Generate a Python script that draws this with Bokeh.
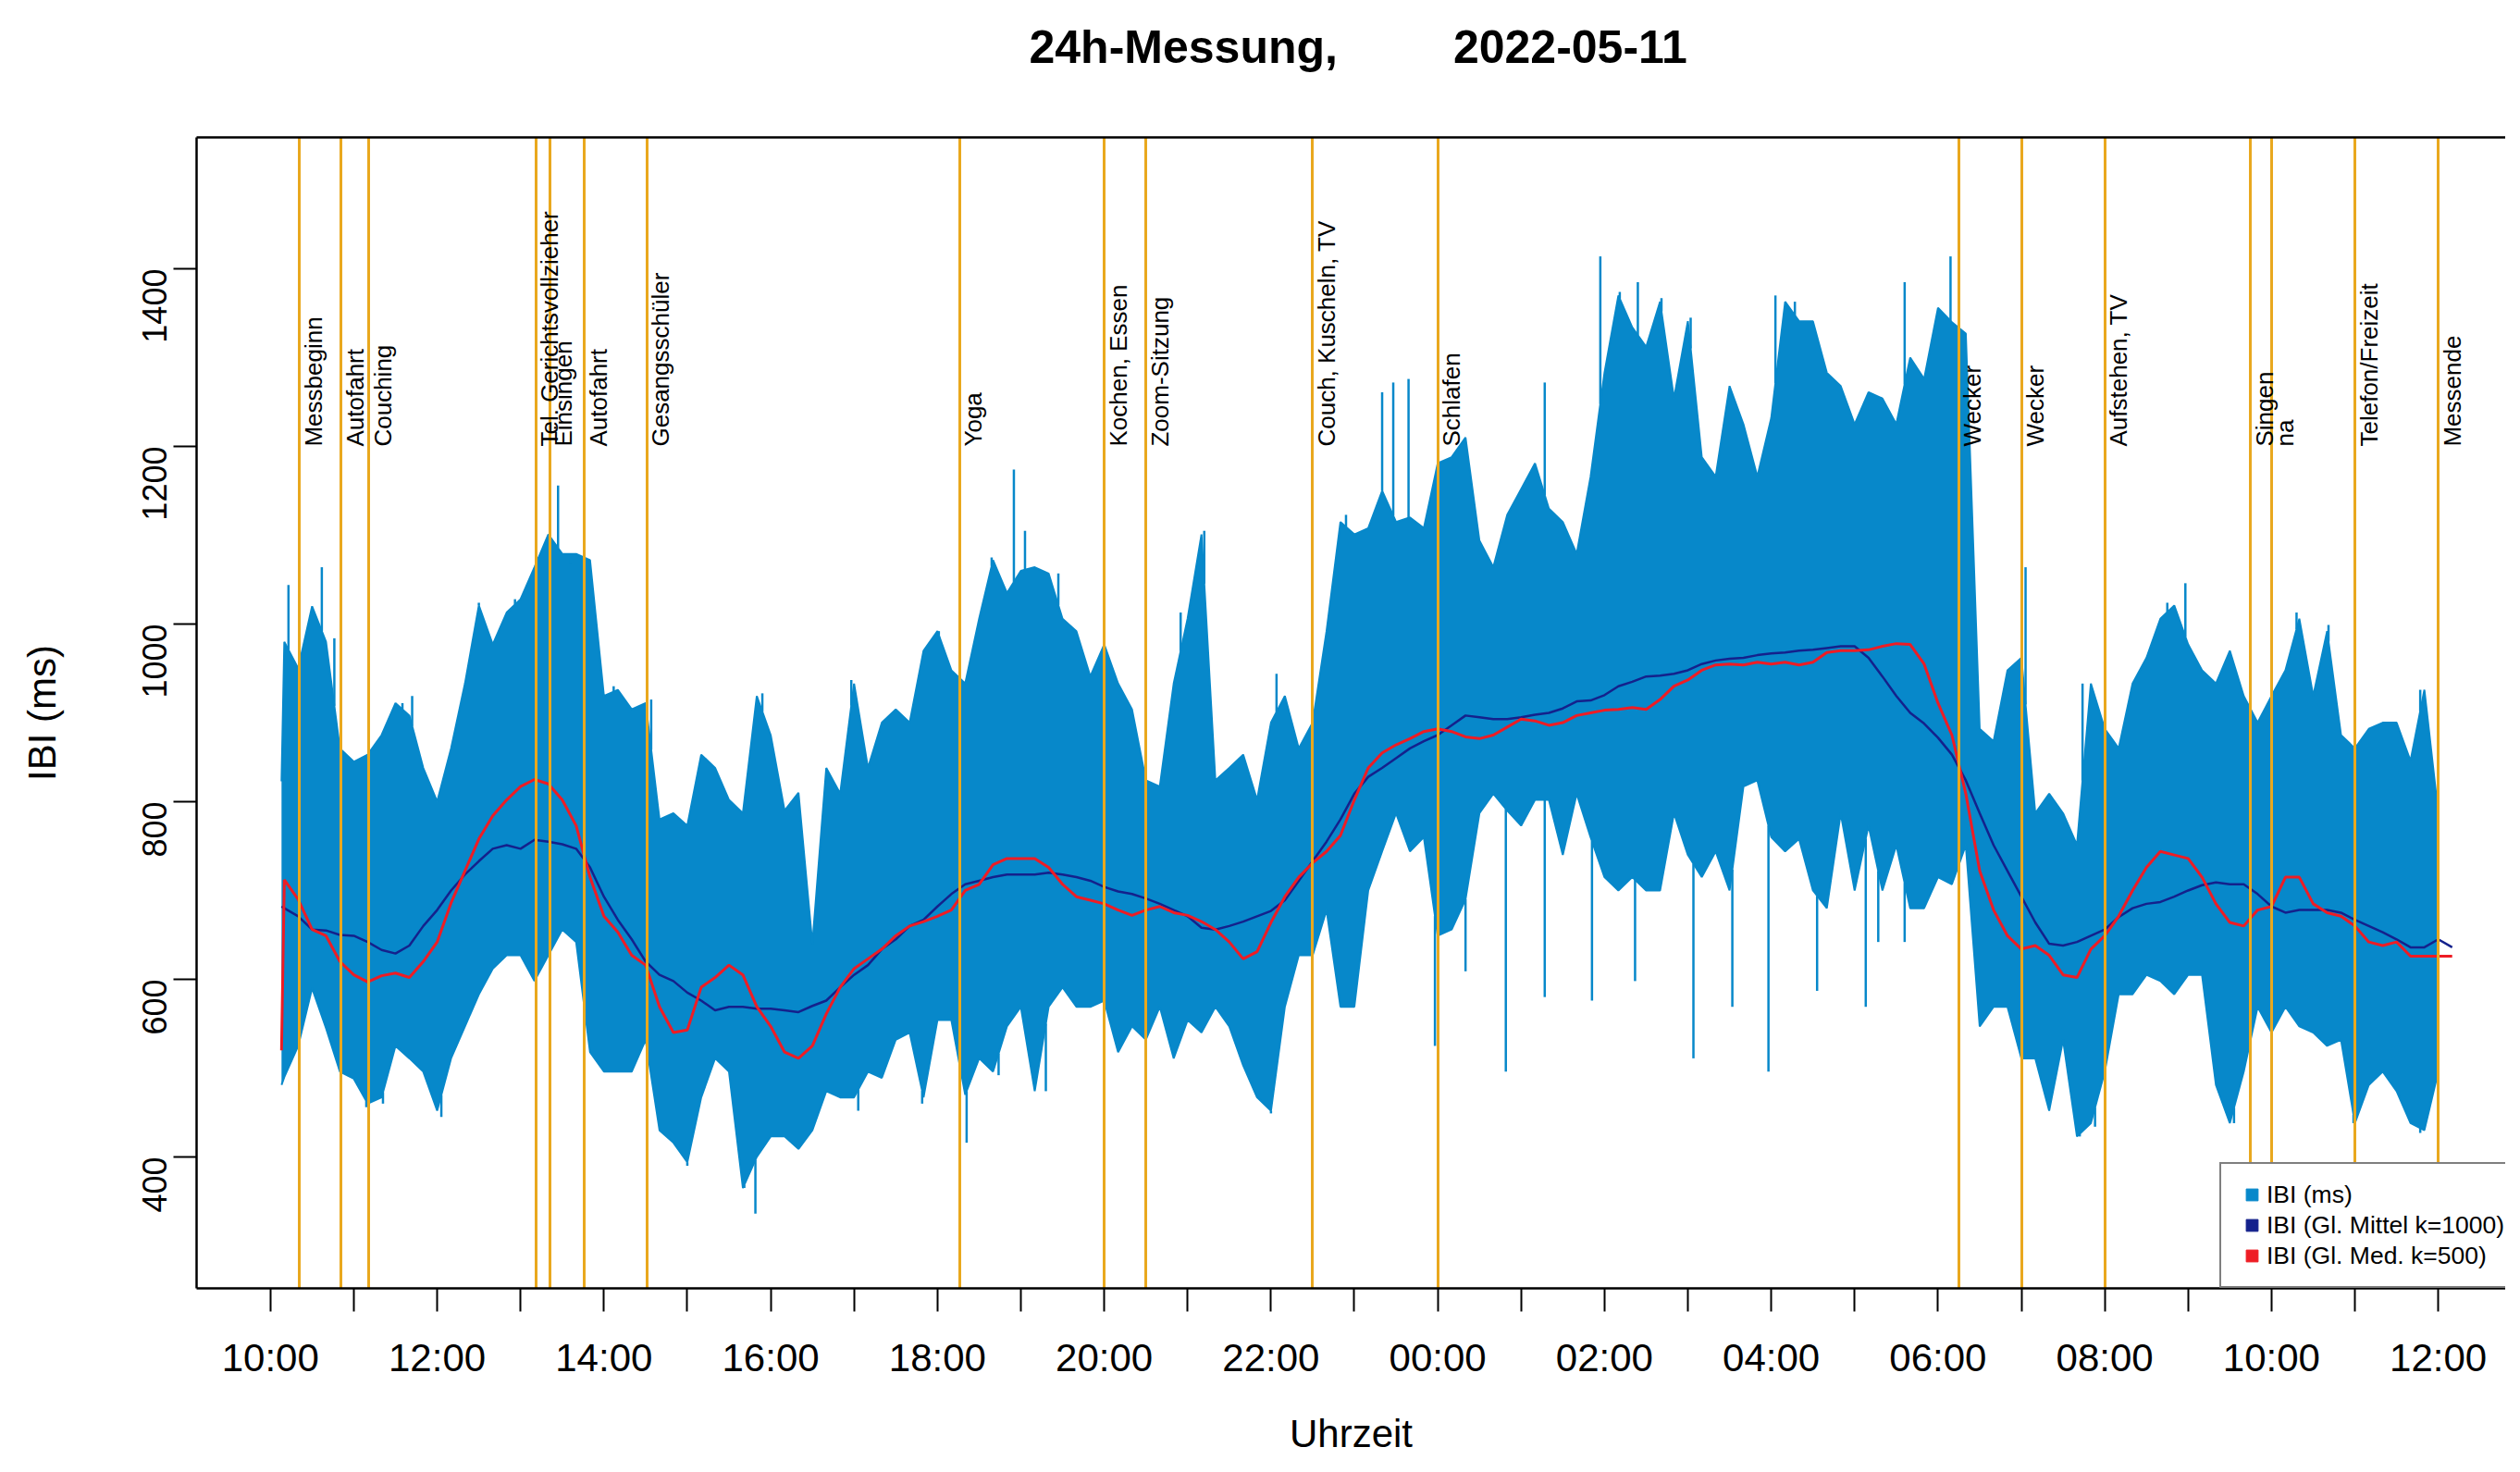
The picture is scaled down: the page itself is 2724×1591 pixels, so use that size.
import math
import numpy as np
import pandas as pd
from bokeh.plotting import figure
from bokeh.models import FixedTicker, LinearAxis, Legend, LegendItem, Title
from bokeh.core.properties import value
from bokeh.embed import file_html
from bokeh.resources import INLINE

# ---------------- data ----------------
DAY0 = "2022-05-11"
title_left = "24h-Messung,"
title_right = "2022-05-11"

event_time = ["2022-05-11 10:21", "2022-05-11 10:51", "2022-05-11 11:11", "2022-05-11 13:11",
              "2022-05-11 13:21", "2022-05-11 13:46", "2022-05-11 14:31", "2022-05-11 18:16",
              "2022-05-11 20:00", "2022-05-11 20:30", "2022-05-11 22:30", "2022-05-12 00:00",
              "2022-05-12 06:15", "2022-05-12 07:00", "2022-05-12 08:00", "2022-05-12 09:45",
              "2022-05-12 10:00", "2022-05-12 11:00", "2022-05-12 12:00"]
event_label = ["Messbeginn", "Autofahrt", "Couching", "Tel. Gerichtsvollzieher", "Einsingen",
               "Autofahrt", "Gesangsschüler", "Yoga", "Kochen, Essen", "Zoom-Sitzung",
               "Couch, Kuscheln, TV", "Schlafen", "Wecker", "Wecker", "Aufstehen, TV",
               "Singen", "na", "Telefon/Freizeit", "Messende"]

# sample times: first sample, then a 10-minute grid
first_time = "2022-05-11 10:08"
env_grid_end = "2022-05-12 12:00"
smooth_grid_end = "2022-05-12 12:10"

# upper / lower envelope of the raw IBI series (ms), per 10 minutes
ibi_hi = [823,
    980, 950, 1020, 980, 860, 845,
    853, 875, 911, 897, 838, 800,
    860, 933, 1021, 977, 1013, 1028,
    1064, 1101, 1079, 1079, 1072, 919,
    926, 904, 911, 780, 787, 773,
    853, 838, 802, 787, 919, 875,
    790, 810, 640, 838, 809, 933,
    838, 889, 904, 889, 970, 992,
    948, 933, 1006, 1072, 1035, 1060,
    1064, 1057, 1006, 992, 941, 977,
    933, 904, 824, 817, 933, 1006,
    1101, 824, 838, 853, 802, 889,
    919, 860, 889, 992, 1115, 1101,
    1108, 1150, 1115, 1120, 1108, 1181,
    1188, 1210, 1094, 1064, 1123, 1152,
    1181, 1130, 1115, 1079, 1166, 1283,
    1370, 1334, 1312, 1363, 1254, 1341,
    1188, 1166, 1268, 1225, 1166, 1232,
    1363, 1341, 1341, 1283, 1268, 1225,
    1261, 1254, 1225, 1300, 1276, 1356,
    1340, 1327, 882, 868, 948, 962,
    787, 809, 787, 751, 933, 882,
    860, 933, 962, 1006, 1021, 977,
    948, 933, 970, 919, 889, 919,
    948, 1006, 919, 992, 875, 860,
    882, 889, 889, 846, 926, 787]
ibi_lo = [481,
    490, 525, 590, 545, 496, 488,
    460, 467, 525, 511, 496, 452,
    511, 547, 583, 612, 627, 627,
    598, 627, 656, 642, 518, 496,
    496, 496, 532, 430, 416, 394,
    467, 511, 496, 365, 400, 423,
    423, 409, 430, 474, 467, 467,
    496, 489, 532, 540, 467, 554,
    554, 470, 511, 496, 547, 569,
    474, 569, 591, 569, 569, 576,
    518, 547, 532, 569, 511, 554,
    540, 569, 547, 503, 467, 452,
    569, 627, 627, 678, 569, 569,
    700, 744, 787, 744, 760, 649,
    656, 690, 787, 809, 790, 773,
    802, 802, 740, 809, 760, 715,
    700, 715, 700, 700, 787, 740,
    715, 744, 700, 817, 824, 760,
    744, 758, 700, 680, 787, 700,
    773, 700, 751, 680, 680, 715,
    707, 751, 547, 569, 569, 511,
    511, 452, 532, 423, 438, 496,
    583, 583, 605, 598, 583, 605,
    605, 481, 438, 496, 569, 540,
    569, 547, 540, 525, 532, 438,
    481, 496, 474, 438, 430, 496]

# isolated single-beat spikes of the raw series
spike_up_time = [
    "2022-05-11 10:13", "2022-05-11 10:37", "2022-05-11 10:46", "2022-05-11 11:35",
    "2022-05-11 11:42", "2022-05-11 12:30", "2022-05-11 12:56", "2022-05-11 13:13",
    "2022-05-11 13:27", "2022-05-11 13:36", "2022-05-11 13:49", "2022-05-11 14:07",
    "2022-05-11 14:34", "2022-05-11 15:54", "2022-05-11 16:58", "2022-05-11 18:01",
    "2022-05-11 18:39", "2022-05-11 18:55", "2022-05-11 19:03", "2022-05-11 19:27",
    "2022-05-11 20:55", "2022-05-11 21:12", "2022-05-11 22:04", "2022-05-11 22:54",
    "2022-05-11 23:20", "2022-05-11 23:28", "2022-05-11 23:39", "2022-05-12 01:17",
    "2022-05-12 01:57", "2022-05-12 02:11", "2022-05-12 02:24", "2022-05-12 02:41",
    "2022-05-12 03:02", "2022-05-12 04:03", "2022-05-12 04:17", "2022-05-12 05:36",
    "2022-05-12 06:09", "2022-05-12 07:03", "2022-05-12 07:44", "2022-05-12 08:45",
    "2022-05-12 08:58", "2022-05-12 10:18", "2022-05-12 10:41", "2022-05-12 11:47"]
spike_up_value = [
    1044, 1064, 984, 911,
    919, 1024, 1028, 1064,
    1156, 1068, 1072, 930,
    915, 922, 937, 992,
    1075, 1174, 1105, 1057,
    1013, 1105, 944, 1123,
    1261, 1272, 1276, 1272,
    1414, 1374, 1385, 1367,
    1345, 1370, 1363, 1385,
    1414, 1064, 933, 1024,
    1046, 1013, 999, 926]
spike_down_time = [
    "2022-05-11 11:09", "2022-05-11 11:21", "2022-05-11 12:03", "2022-05-11 15:00",
    "2022-05-11 15:41", "2022-05-11 15:49", "2022-05-11 17:03", "2022-05-11 17:49",
    "2022-05-11 18:21", "2022-05-11 18:44", "2022-05-11 19:18", "2022-05-11 22:00",
    "2022-05-11 23:58", "2022-05-12 00:20", "2022-05-12 00:49", "2022-05-12 01:17",
    "2022-05-12 01:51", "2022-05-12 02:22", "2022-05-12 03:04", "2022-05-12 03:32",
    "2022-05-12 03:58", "2022-05-12 04:33", "2022-05-12 05:08", "2022-05-12 05:17",
    "2022-05-12 05:36", "2022-05-12 07:42", "2022-05-12 07:53", "2022-05-12 09:33",
    "2022-05-12 10:59", "2022-05-12 11:47"]
spike_down_value = [
    456, 460, 445, 390,
    365, 336, 452, 460,
    416, 492, 474, 449,
    525, 609, 496, 580,
    576, 598, 511, 569,
    496, 587, 569, 642,
    642, 423, 434, 438,
    438, 427]

# gleitendes Mittel k=1000
ibi_mean = [682,
    680, 671, 656, 655, 650, 649,
    642, 633, 629, 638, 660, 678,
    700, 718, 733, 747, 751, 747,
    757, 755, 752, 747, 726, 693,
    667, 645, 620, 605, 598, 585,
    576, 565, 569, 569, 567, 567,
    565, 563, 570, 576, 591, 605,
    616, 634, 645, 660, 667, 682,
    696, 707, 711, 715, 718, 718,
    718, 720, 718, 715, 711, 704,
    699, 696, 691, 685, 678, 671,
    658, 656, 660, 665, 671, 677,
    689, 711, 733, 755, 780, 809,
    828, 838, 849, 860, 868, 875,
    886, 897, 895, 893, 893, 895,
    898, 900, 905, 913, 914, 920,
    930, 935, 941, 942, 944, 948,
    955, 959, 961, 962, 965, 967,
    968, 970, 971, 973, 975, 975,
    962, 941, 919, 900, 888, 872,
    853, 824, 787, 751, 722, 693,
    664, 640, 638, 642, 649, 656,
    670, 680, 685, 687, 693, 700,
    706, 709, 707, 707, 696, 682,
    675, 678, 678, 678, 675, 667,
    660, 653, 645, 636, 636, 645,
    636]
# gleitender Median k=500
ibi_median = [520,
    712, 690, 656, 649, 620, 605,
    597, 604, 607, 602, 620, 642,
    686, 722, 758, 784, 802, 817,
    825, 820, 802, 773, 715, 671,
    653, 627, 616, 569, 540, 543,
    591, 602, 616, 605, 569, 547,
    518, 511, 525, 561, 591, 612,
    623, 634, 649, 660, 665, 671,
    678, 700, 707, 729, 736, 736,
    736, 726, 707, 693, 689, 685,
    678, 672, 678, 682, 675, 672,
    665, 656, 642, 623, 631, 664,
    693, 715, 731, 744, 762, 802,
    838, 855, 864, 871, 879, 882,
    879, 873, 871, 875, 884, 893,
    891, 886, 889, 897, 900, 903,
    904, 906, 904, 915, 930, 937,
    948, 954, 955, 954, 957, 955,
    957, 954, 957, 968, 970, 970,
    971, 975, 978, 977, 955, 911,
    875, 809, 722, 678, 649, 634,
    638, 627, 605, 602, 634, 649,
    671, 700, 726, 744, 740, 736,
    715, 685, 664, 660, 678, 682,
    715, 715, 685, 675, 671, 660,
    642, 638, 642, 626, 626, 626,
    626]

x_tick_hours = [10, 11, 12, 13, 14, 15, 16, 17, 18, 19, 20, 21, 22, 23, 24,
                25, 26, 27, 28, 29, 30, 31, 32, 33, 34, 35, 36]
x_tick_labels = ["10:00", "", "12:00", "", "14:00", "", "16:00", "", "18:00", "", "20:00", "",
                 "22:00", "", "00:00", "", "02:00", "", "04:00", "", "06:00", "", "08:00", "",
                 "10:00", "", "12:00"]
y_ticks = [400, 600, 800, 1000, 1200, 1400]

legend_labels = ["IBI (ms)", "IBI (Gl. Mittel k=1000)", "IBI (Gl. Med. k=500)"]

# ---------------- helpers ----------------
base = pd.Timestamp(DAY0)


def hours(ts):
    return (pd.Timestamp(ts) - base).total_seconds() / 3600.0


env_t = [hours(first_time)] + [hours(t) for t in pd.date_range("2022-05-11 10:10", env_grid_end, freq="10min")]
sm_t = [hours(first_time)] + [hours(t) for t in pd.date_range("2022-05-11 10:10", smooth_grid_end, freq="10min")]
n_env = min(len(env_t), len(ibi_hi), len(ibi_lo))
n_sm = min(len(sm_t), len(ibi_mean), len(ibi_median))
env_t = np.array(env_t[:n_env])
hi = np.array(ibi_hi[:n_env], dtype=float)
lo = np.array(ibi_lo[:n_env], dtype=float)

n_su = min(len(spike_up_time), len(spike_up_value))
n_sd = min(len(spike_down_time), len(spike_down_value))
su_t = np.array([hours(t) for t in spike_up_time[:n_su]])
sd_t = np.array([hours(t) for t in spike_down_time[:n_sd]])
ev_t = [hours(t) for t in event_time]

# ---------------- style ----------------
FONT = "Liberation Sans"
C_IBI = "#0788CA"
C_MEAN = "#14218C"
C_MED = "#EE1C24"
C_EVENT = "#E9A81E"

p = figure(width=2708, height=1575, output_backend="svg", toolbar_location=None,
           x_range=(9.1146, 36.808), y_range=(252, 1548),
           min_border_left=212, min_border_right=0, min_border_top=148, min_border_bottom=178)
p.background_fill_color = "white"
p.border_fill_color = "white"
p.outline_line_color = None
p.xgrid.visible = False
p.ygrid.visible = False

# raw IBI band
p.varea(x=env_t, y1=lo, y2=hi, fill_color=C_IBI, fill_alpha=1.0)
p.line(x=env_t, y=hi, line_color=C_IBI, line_width=2)
p.line(x=env_t, y=lo, line_color=C_IBI, line_width=2)
p.segment(x0=su_t, y0=np.interp(su_t, env_t, hi), x1=su_t, y1=spike_up_value[:n_su],
          line_color=C_IBI, line_width=2.5)
p.segment(x0=sd_t, y0=np.interp(sd_t, env_t, lo), x1=sd_t, y1=spike_down_value[:n_sd],
          line_color=C_IBI, line_width=2.5)

# smoothers
p.line(x=sm_t[:n_sm], y=ibi_mean[:n_sm], line_color=C_MEAN, line_width=2.5)
p.line(x=sm_t[:n_sm], y=ibi_median[:n_sm], line_color=C_MED, line_width=3)

# events
p.vspan(x=ev_t, line_color=C_EVENT, line_width=3)
LABEL_Y = 1200
p.text(x=ev_t, y=[LABEL_Y] * len(ev_t), text=event_label, angle=math.pi / 2,
       text_align="left", text_baseline="top", text_font=value(FONT),
       text_font_size="26px", text_color="black")

# axes
for ax in (p.xaxis[0], p.yaxis[0]):
    ax.axis_line_width = 2.5
    ax.axis_line_color = "black"
    ax.major_tick_line_width = 2
    ax.major_tick_line_color = "black"
    ax.major_tick_out = 25
    ax.major_tick_in = 0
    ax.minor_tick_line_color = None
    ax.major_label_text_font = FONT
    ax.axis_label_text_font = FONT
    ax.axis_label_text_font_style = "normal"
    ax.axis_label_text_color = "black"
    ax.major_label_text_color = "black"

p.xaxis.ticker = FixedTicker(ticks=x_tick_hours)
p.xaxis.major_label_overrides = {h: lab for h, lab in zip(x_tick_hours, x_tick_labels)}
p.xaxis.major_label_text_font_size = "42px"
p.xaxis.major_label_standoff = 26
p.xaxis.axis_label = "Uhrzeit"
p.xaxis.axis_label_text_font_size = "42px"
p.xaxis.axis_label_standoff = 32

p.yaxis.ticker = FixedTicker(ticks=y_ticks)
p.yaxis.major_label_orientation = math.pi / 2
p.yaxis.major_label_text_font_size = "36px"
p.yaxis.major_label_standoff = 20
p.yaxis.axis_label = "IBI (ms)"
p.yaxis.axis_label_text_font_size = "42px"
p.yaxis.axis_label_standoff = 70

top_axis = LinearAxis(ticker=FixedTicker(ticks=[]), axis_line_width=2.5, axis_line_color="black",
                      major_tick_line_color=None, minor_tick_line_color=None,
                      major_tick_out=0, major_tick_in=0, major_label_standoff=0,
                      major_label_text_font_size="0px")
p.add_layout(top_axis, "above")
# empty spacer between the box and the title
p.add_layout(Title(text="\u00a0", text_font_size="20px", standoff=36), "above")

# title
p.title.text = title_left + "\u00a0" * 9 + title_right
p.title.align = "left"
p.title.offset = 900
p.title.text_font = FONT
p.title.text_font_size = "50px"
p.title.text_font_style = "bold"
p.title.text_color = "black"
p.title.standoff = 20

# legend with square keys
nan = float("nan")
leg_r = [p.scatter(x=[nan], y=[nan], marker="square", size=13, fill_color=c, line_color=c)
         for c in (C_IBI, C_MEAN, C_MED)]
legend = Legend(items=[LegendItem(label=l, renderers=[r]) for l, r in zip(legend_labels, leg_r)],
                location=(2187, 0), padding=17, spacing=1, margin=0,
                glyph_width=32, glyph_height=32, label_height=32, label_standoff=0,
                label_text_font=FONT, label_text_font_size="26.5px", label_text_color="black",
                border_line_color="black", border_line_width=2.5,
                background_fill_color="white", background_fill_alpha=1.0)
p.add_layout(legend)

open("out.html", "w").write(file_html(p, INLINE))
